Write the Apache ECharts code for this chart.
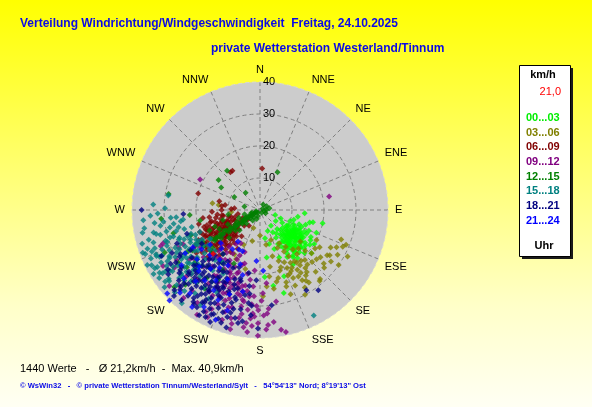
<!DOCTYPE html>
<html>
<head>
<meta charset="utf-8">
<script src="https://cdn.jsdelivr.net/npm/echarts@6/dist/echarts.min.js"></script>
<style>
html,body{margin:0;padding:0;width:592px;height:407px;overflow:hidden;background:linear-gradient(to bottom,#ffff00 0%,#ffff60 35%,#ffffc8 75%,#fffff4 100%);}
#chart{width:592px;height:407px;}
</style>
</head>
<body>
<div id="chart"></div>
<script>
// Direction labels (angle axis ticks every 22.5 degrees)
const dirLabels = ['N','NNE','NE','ENE','E','ESE','SE','SSE','S','SSW','SW','WSW','W','WNW','NW','NNW'];
const hourNames = ['00...03','03...06','06...09','09...12','12...15','15...18','18...21','21...24'];
const hourColors = ['#00ff00','#808000','#800000','#800080','#008000','#008080','#000080','#0000ff'];

// Each point: [speed km/h, direction degrees]
const h00_03 = [[12,130],[13,133],[14,128],[11,135],[12,138],[13,125],[15,132],[14,140],[11,128],[10,132],[12,122],[13,142],[15,125],[16,135],[10,140],[11,120],[14,118],[13,118],[12,145],[15,145],[16,128],[17,132],[9,135],[10,125],[14,135],[12,127],[13,137],[11,142],[15,120],[16,122],[17,140],[18,137],[9,128],[10,118],[12,115],[14,112],[5,108],[7,112],[8,120],[6,125],[9,145],[8,150],[10,150],[12,152],[14,148],[16,148],[18,145],[20,149],[19,142],[17,150],[13,110],[15,108],[16,104],[17,103],[20,102],[14,94],[12,100],[11,106],[18,118],[19,125],[21,130],[9,170],[11,165],[13,160],[15,172],[16,158],[21,176],[24,170],[27,164],[22,160],[7,160],[6,145],[8,138],[10,110],[19,112],[13,150],[18,128],[20,122],
  [12.4,131],[13.3,129],[14.6,131],[11.3,131],[12.6,124],[13.4,123],[14.3,124],[15.6,127],[16.4,131],[15.3,136],[14.4,139],[13.6,139],[12.3,143],[11.6,137],[10.4,137],[10.6,127],[11.4,125],[12.3,119],[13.6,116],[15.4,116],[16.3,117],[17.4,126],[18.3,131],[17.6,144],[15.4,141],[16.6,141],[19.3,134],[18.4,121],[9.6,121],[11.3,113],
  [13.3,131],[14.4,129],[12.6,133],[13.4,137],[14.3,127],[15.6,125],[12.4,129],[11.6,133],[14.6,121],[13.3,121],[15.4,123],[16.3,127],[17.3,133],[16.4,137],[14.3,143],[12.6,139],[15.3,138],[13.6,127],[12.3,121],[16.6,113]];
const h03_06 = [[18,140],[20,145],[22,148],[19,150],[21,138],[23,142],[24,150],[20,155],[17,148],[18,155],[22,155],[25,145],[26,138],[23,135],[21,130],[19,132],[16,140],[15,150],[17,160],[20,162],[22,165],[24,160],[26,155],[28,150],[29,140],[27,132],[26,123],[28,120],[27,110],[25,118],[24,128],[30,125],[31,118],[22,122],[20,118],[16,128],[14,145],[13,155],[15,165],[18,170],[21,172],[25,170],[28,160],[30,152],[24,175],[27,178],[23,167],[19,160],[12,150],[10,160],[6,200],[10,194],[13,277],[9,266],[12,205],[16,210],[8,180],[11,170],[17,135],[21,125],[29,112],[26,130],[15,278],[18,228],[14,232],[19,194],[17,206],
  [20.4,141],[21.3,144],[22.6,139],[23.4,147],[24.3,143],[25.6,149],[19.3,146],[20.6,151],[21.4,153],[22.3,157],[23.6,154],[25.3,161],[26.4,147],[27.3,146],[28.6,139],[27.4,126],[25.3,124],[23.4,131],[26.6,116],[28.3,114]];
const h06_09 = [[13,235],[12,238],[14,232],[11,240],[15,236],[13,242],[12,228],[10,235],[14,245],[16,240],[15,230],[11,230],[9,240],[10,248],[12,250],[14,252],[16,248],[17,238],[18,232],[13,225],[11,222],[9,228],[8,235],[7,240],[6,245],[5,232],[8,255],[10,258],[12,262],[14,260],[16,256],[18,250],[19,244],[20,238],[21,233],[17,226],[15,222],[13,218],[16,215],[19,222],[22,228],[20,250],[18,262],[15,268],[12,270],[9,272],[11,278],[13,282],[20,285],[15,322],[15,325],[13,3],[12,276],[8,274],[7,225],[6,215],[24,236],[10,215],[14,210],[17,245],[12,245],[11,252],[14,238],[13,246],[9,250],[7,260],[16,262],[18,242],
  [10.4,237],[11.3,245],[12.6,231],[13.3,231],[14.4,235],[15.3,243],[16.6,233],[17.4,231],[12.3,242],[13.6,236],[11.4,234],[10.3,227],[9.4,233],[14.6,227],[15.4,225],[16.3,245],[17.6,249],[18.4,235],[19.3,239],[20.6,243],[21.3,241],[22.4,234],[19.6,229],[18.3,227],[16.4,221],[14.3,221],[12.4,223],[10.6,243],[8.4,247],[9.3,257],[11.6,261],[13.4,264],[15.6,257],[17.3,254],[13.2,251],[14.6,255],[15.3,249],[12.6,257],[16.3,231],[11.3,225],
  [11.6,237],[12.3,235],[13.4,233],[14.3,243],[15.6,241],[16.4,237],[17.3,243],[18.6,245],[19.4,247],[20.3,235],[13.6,244],[11.3,249],[10.6,251],[12.4,253],[14.2,249],[16.6,251],[18.3,253],[19.6,257],[21.4,244],[23.3,241]];
const h09_12 = [[20,209],[21,200],[24,191],[35,214],[36,208],[30,182],[36,176],[32,251],[37,230],[19,215],[22,205],[25,200],[27,195],[29,190],[26,210],[23,220],[28,215],[30,205],[32,198],[33,190],[34,185],[38,170],[39,168],[33,178],[31,175],[27,184],[24,185],[22,188],[18,198],[17,205],[16,212],[15,220],[18,225],[21,228],[25,225],[29,222],[33,220],[31,228],[27,235],[24,240],[28,245],[33,250],[35,240],[22,238],[20,232],[14,200],[13,215],[19,185],[26,178],[29,170],[23,175],[21,297],[22,79],[17,218],[20,222],[25,215],[30,212],[26,192],[28,202],[35,195],[37,188],[23,230],[16,228],[14,236],[12,210],
  [25.4,206],[26.3,201],[27.6,209],[28.4,204],[30.3,201],[31.6,196],[29.2,199],[24.6,213],[22.3,214],[21.6,211],[19.4,204],[18.3,211],[20.6,199],[23.3,196],[25.6,189],[27.2,187],[30.7,191],[32.4,184],[34.3,191],[36.6,194],[37.3,206],[38.2,211],[36.4,221],[34.6,227],[32.3,236],[30.4,239],[26.3,246],[25.6,234],[22.4,226],[19.6,219],[24.3,197],[28.6,191],[31.3,181],[35.4,181],[38.3,186],[17.4,196],[15.6,204],[20.3,191],[33.6,199],[29.4,227],
  [23.4,204],[24.6,203],[26.2,205],[28.3,207],[30.6,209],[32.3,204],[34.4,206],[36.3,199],[38.4,194],[35.6,187],[33.3,183],[31.4,187],[29.6,185],[27.4,193],[25.3,195],[21.4,206],[19.3,209],[22.6,201],[24.4,193],[36.3,184],[39.3,181],[37.4,177],[35.3,173],[32.4,176],[28.4,179]];
const h12_15 = [[1,220],[1,60],[2,30],[2,200],[2,240],[3,235],[3,220],[3,250],[4,238],[4,230],[5,236],[5,242],[6,234],[6,240],[7,237],[7,232],[8,238],[8,243],[9,235],[9,240],[10,236],[10,230],[11,238],[12,235],[13,240],[14,237],[15,234],[16,238],[17,236],[18,240],[19,232],[21,237],[2,90],[3,80],[2,120],[1,150],[3,200],[4,215],[6,225],[5,255],[7,250],[11,246],[13,228],[22,266],[29,280],[31,265],[16,320],[13,25],[9,297],[7,320],[5,283],[16,306],[14,300],[20,230],[24,222],[27,218],[30,215],[33,225],[26,240],[23,250],[28,255],[19,260],[15,250],[12,255],[10,262],[25,232],[18,220],[22,212],[29,232],[36,228],[14,245],[17,248],[9,225],
  [8.4,236],[9.3,237],[10.6,239],[11.4,235],[12.3,239],[13.6,237],[14.4,239],[15.3,237],[16.6,237],[17.4,239],[6.3,237],[5.4,239],[4.3,241],[3.4,239],[2.3,236],[1.4,241],[1.3,251],[2.4,61],[1.3,101],[2.6,251],[20.4,241],[22.3,242],[24.6,239],[26.3,231],[30.4,237],[32.6,246],[20.3,216],[25.4,211],[18.6,206]];
const h15_18 = [[26,236],[27,240],[25,232],[28,234],[24,238],[29,238],[26,244],[23,242],[27,228],[25,226],[30,230],[31,236],[32,242],[29,246],[27,250],[24,250],[22,245],[21,238],[20,232],[23,228],[28,222],[31,224],[33,230],[34,236],[35,242],[33,248],[31,252],[30,257],[34,258],[22,256],[26,258],[38,243],[34,239],[27,247],[38,220],[29,279],[37,153],[32,230],[36,232],[38,236],[35,228],[33,218],[30,216],[27,214],[24,218],[21,222],[19,228],[18,240],[20,250],[25,262],[28,265],[32,268],[36,255],[39,250],[37,226],[35,212],[32,210],[29,208],[23,210],[20,215],[27,256],[24,245],[28,244],[22,232],[31,246],[35,250],[28,228],[37,238],
  [25.3,241],[26.7,231],[27.4,237],[28.2,239],[29.6,233],[30.3,241],[31.8,243],[32.4,237],[33.1,241],[34.6,245],[35.2,237],[36.7,241],[37.3,246],[38.4,249],[36.2,249],[34.8,253],[32.1,256],[30.7,251],[28.3,253],[26.6,251],[24.4,256],[22.8,251],[23.2,237],[24.6,233],[25.7,229],[27.2,225],[29.3,227],[31.6,231],[33.4,235],[35.7,233],[37.1,233],[38.8,239],[30.4,263],[33.2,263],[36.6,261],[26.3,265],[29.7,271],[33.4,273],[21.6,249],[20.3,243],
  [35.4,246],[37.2,251],[38.3,254],[36.6,265],[34.3,267],[31.5,261],[28.7,259],[25.4,249],[23.6,247],[21.3,243],[27.6,233],[29.2,243],[33.7,245],[35.3,247],[39.2,244],[37.6,241],[32.3,227],[34.6,223],[30.2,221],[26.4,227],[36.3,237],[38.4,231],[31.2,249],[29.4,253],[27.3,261],[24.2,263],[22.4,241],[19.6,236],[33.3,257],[37.4,259]];
const h18_21 = [[27,214],[28,210],[26,218],[29,216],[25,212],[30,212],[27,205],[26,222],[31,220],[24,220],[23,214],[28,225],[32,215],[33,208],[30,204],[28,200],[25,205],[22,208],[21,218],[24,228],[27,230],[30,228],[33,226],[35,220],[34,212],[36,205],[35,197],[36,191],[37,181],[32,195],[29,195],[26,198],[23,200],[20,205],[19,212],[18,220],[22,226],[26,235],[29,240],[24,252],[24,267],[37,270],[29,150],[31,144],[30,173],[28,207],[22,183],[20,190],[24,188],[33,185],[30,185],[27,190],[32,232],[35,235],[38,225],[36,215],[27,222],[20,225],[25,240],[21,240],[31,238],[34,245],[28,248],[23,195],[19,200],[38,210],[34,200],
  [26.4,211],[27.3,219],[28.6,213],[29.2,221],[30.5,217],[31.3,213],[32.7,211],[33.2,216],[34.4,217],[25.6,215],[24.3,211],[23.7,206],[22.4,211],[21.3,224],[23.4,223],[25.2,226],[27.6,227],[29.4,229],[31.2,233],[33.6,229],[35.3,225],[37.4,221],[36.3,209],[35.6,204],[33.3,203],[31.7,201],[29.6,206],[27.3,201],[25.4,196],[24.6,199],[22.3,196],[26.7,206],[28.4,196],[30.3,197],[34.6,193],[36.4,201],[38.3,204],[32.6,221],[34.3,237],[30.6,244],
  [32.3,206],[34.6,207],[36.2,213],[37.5,207],[35.4,216],[33.6,211],[31.4,209],[29.7,213],[27.4,209],[25.2,207],[28.6,219],[30.4,223],[32.2,224],[34.3,226],[36.6,227],[29.3,224],[26.2,229],[24.4,223],[22.6,219],[20.4,214],[33.4,196],[35.2,189],[31.6,191],[29.3,187],[26.4,187],[38.2,196],[37.3,199],[30.3,234],[28.4,241],[32.6,239]];
const h21_24 = [[40,225],[37,202],[14,203],[26,227],[24,241],[20,219],[19,177],[16,184],[22,215],[24,220],[26,212],[28,218],[30,222],[32,228],[34,220],[29,210],[27,225],[25,232],[21,228],[19,235],[17,225],[15,215],[14,208],[18,200],[21,195],[24,205],[31,205],[33,198],[35,210],[37,215],[36,224],[30,235],[27,240],[12,215],[16,230],[22,236],[28,200],[26,192],[39,228],[20,210]];
const avgPoint = [[20,227]];
const hourData = [h00_03,h03_06,h06_09,h09_12,h12_15,h15_18,h18_21,h21_24];

const chart = echarts.init(document.getElementById('chart'), null, {renderer:'canvas'});
const series = hourNames.map((n,i)=>({
  name:n, type:'scatter', coordinateSystem:'polar', polarIndex:1, symbol:'diamond', symbolSize:6,
  itemStyle:{color:hourColors[i]}, data:hourData[i], z:3+i, animation:false
}));
series.push({name:'avg', type:'scatter', coordinateSystem:'polar', polarIndex:1, symbol:'diamond', symbolSize:6,
  itemStyle:{color:'#ff0000'}, data:avgPoint, z:20, animation:false});

const font = 'Liberation Sans, Arial, sans-serif';
chart.setOption({
  backgroundColor:'transparent',
  animation:false,
  textStyle:{fontFamily:font},
  title:[
    {text:'Verteilung Windrichtung/Windgeschwindigkeit  Freitag, 24.10.2025', left:20, top:18, padding:0,
     textStyle:{color:'#0a0ae6', fontSize:12, fontWeight:'bold', fontFamily:font}},
    {text:'private Wetterstation Westerland/Tinnum', left:211, top:43, padding:0,
     textStyle:{color:'#0a0ae6', fontSize:12, fontWeight:'bold', fontFamily:font}},
    {text:'1440 Werte   -   Ø 21,2km/h  -  Max. 40,9km/h', left:20, top:363, padding:0,
     textStyle:{color:'#000', fontSize:11, fontWeight:'normal', fontFamily:font}},
    {text:'© WsWin32   -   © private Wetterstation Tinnum/Westerland/Sylt   -   54°54\'13" Nord; 8°19\'13" Ost', left:20, top:382, padding:0,
     textStyle:{color:'#0a0ae6', fontSize:7.6, fontWeight:'bold', fontFamily:font}}
  ],
  polar:[
    {center:[260,210], radius:128},
    {center:[260,210], radius:128}
  ],
  angleAxis:[
    {polarIndex:0, type:'value', min:0, max:360, interval:22.5, startAngle:90, clockwise:true, z:0,
     axisLine:{show:false}, axisTick:{show:false}, axisLabel:{show:false}, splitLine:{show:false},
     splitArea:{show:true, areaStyle:{color:['#cccccc']}}},
    {polarIndex:1, type:'value', min:0, max:360, interval:22.5, startAngle:90, clockwise:true, z:1,
     axisLine:{show:false}, axisTick:{show:false},
     axisLabel:{margin:7, color:'#000', fontSize:11, fontFamily:font,
       formatter:function(v){ return dirLabels[Math.round(v/22.5)%16]; }},
     splitLine:{show:true, lineStyle:{color:'#808080', type:[4,3], width:1}},
     splitArea:{show:false}}
  ],
  radiusAxis:[
    {polarIndex:0, type:'value', min:0, max:40, interval:10, z:0,
     axisLine:{show:false}, axisTick:{show:false}, axisLabel:{show:false}, splitLine:{show:false}, splitArea:{show:false}},
    {polarIndex:1, type:'value', min:0, max:40, interval:10, z:2,
     axisLine:{show:false}, axisTick:{show:false},
     axisLabel:{color:'#000', fontSize:11, fontFamily:font, margin:-3, align:'left',
       formatter:function(v){ return v===0 ? '' : String(v); }},
     splitLine:{show:true, lineStyle:{color:['#808080','#808080','#808080','#808080','#d6d6d6'], type:[4,3], width:1}},
     splitArea:{show:false}}
  ],
  legend:{
    orient:'vertical', left:521, top:111, padding:0, itemWidth:0, itemHeight:14, itemGap:2.14,
    icon:'none', selectedMode:false, z:10,
    data:hourNames.map((n,i)=>({name:n, textStyle:{color: i===0 ? '#00ee00' : hourColors[i]}})),
    textStyle:{fontSize:11, fontWeight:'bold', fontFamily:font, padding:0}
  },
  graphic:[
    {type:'rect', shape:{x:522, y:68, width:51, height:191}, style:{fill:'#1a1a1a'}, z:1},
    {type:'rect', shape:{x:519.5, y:65.5, width:51, height:191}, style:{fill:'#ffffff', stroke:'#000000', lineWidth:1}, z:2},
    {type:'text', x:543, y:75, style:{text:'km/h', fill:'#000', font:'bold 11px Liberation Sans, Arial', textAlign:'center', textVerticalAlign:'middle'}, z:5},
    {type:'text', x:561, y:92, style:{text:'21,0', fill:'#ff0000', font:'11px Liberation Sans, Arial', textAlign:'right', textVerticalAlign:'middle'}, z:5},
    {type:'text', x:544, y:246, style:{text:'Uhr', fill:'#000', font:'bold 11px Liberation Sans, Arial', textAlign:'center', textVerticalAlign:'middle'}, z:5}
  ],
  series:series
});
</script>
</body>
</html>
